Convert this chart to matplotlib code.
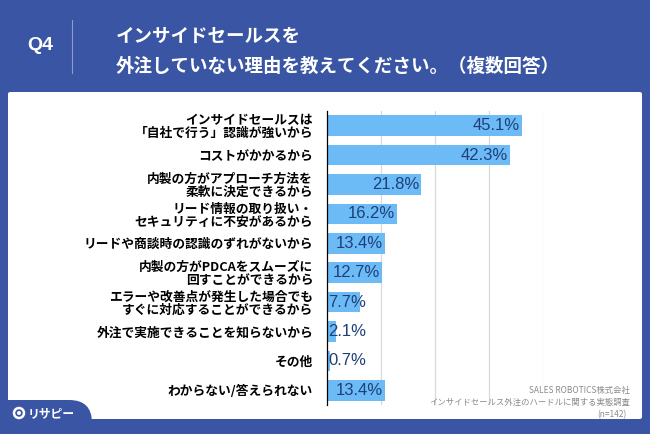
import matplotlib.pyplot as plt
from matplotlib.patches import FancyBboxPatch, Ellipse
from matplotlib.lines import Line2D

plt.rcParams['font.family'] = ['Noto Sans CJK JP', 'DejaVu Sans']

# data
categories = [
    "インサイドセールスは\n「自社で行う」認識が強いから",
    "コストがかかるから",
    "内製の方がアプローチ方法を\n柔軟に決定できるから",
    "リード情報の取り扱い・\nセキュリティに不安があるから",
    "リードや商談時の認識のずれがないから",
    "内製の方がPDCAをスムーズに\n回すことができるから",
    "エラーや改善点が発生した場合でも\nすぐに対応することができるから",
    "外注で実施できることを知らないから",
    "その他",
    "わからない/答えられない",
]
values = [45.1, 42.3, 21.8, 16.2, 13.4, 12.7, 7.7, 2.1, 0.7, 13.4]
grid_ticks = [12.5, 25, 37.5, 50]

BLUE = "#3A55A4"
BAR = "#6CBBF7"
VAL = "#1E4079"

W, H = 650, 434
fig = plt.figure(figsize=(W / 100, H / 100), dpi=100)
fig.patch.set_facecolor(BLUE)

def fx(px):
    return px / W

def fy(py):
    return 1 - py / H

# white panel
panel = FancyBboxPatch((fx(8), fy(419)), fx(634), (419 - 92) / H,
                       boxstyle="round,pad=0,rounding_size=0.004",
                       transform=fig.transFigure, facecolor="white",
                       edgecolor="none", zorder=-3)
fig.patches.append(panel)

# logo tab bottom-left
tab = FancyBboxPatch((fx(-20), fy(440)), fx(112), 40 / H,
                     boxstyle="round,pad=0,rounding_size=0.035",
                     transform=fig.transFigure, facecolor=BLUE,
                     edgecolor="none", zorder=-2, mutation_aspect=W / H)
fig.patches.append(tab)

# header
fig.text(fx(40), fy(45), "Q4", color="white", fontsize=14, fontweight="bold",
         ha="center", va="center", family=["Liberation Sans", "DejaVu Sans"])
fig.add_artist(Line2D([fx(72), fx(72)], [fy(20), fy(73)], color="#8C9CCB",
                      linewidth=0.8, transform=fig.transFigure))
fig.text(fx(116), fy(36), "インサイドセールスを", color="white", fontsize=13.3,
         fontweight="bold", ha="left", va="center")
fig.text(fx(116), fy(66), "外注していない理由を教えてください。（複数回答）",
         color="white", fontsize=13.3, fontweight="bold", ha="left", va="center")

# chart
ax = fig.add_axes([fx(327), fy(405), fx(216), 294 / H])
ax.set_facecolor("none")
y = list(range(len(values)))
ax.barh(y, values, height=0.7, color=BAR, zorder=2)
ax.set_xlim(0, 50)
ax.set_ylim(len(values) - 0.5, -0.5)
ax.set_xticks(grid_ticks)
ax.set_xticklabels([])
ax.tick_params(axis="both", length=0)
ax.grid(axis="x", color="#D9D9D9", linewidth=0.9, zorder=0)
for s in ["top", "right", "bottom"]:
    ax.spines[s].set_visible(False)
ax.spines["left"].set_linewidth(0.9)
ax.spines["left"].set_zorder(3)
ax.set_yticks(y)
ax.set_yticklabels(categories, fontsize=9.2, fontweight="bold", linespacing=1.02)
ax.tick_params(axis="y", pad=10)

for i, v in enumerate(values):
    if v < 8:
        ax.text(0.3, i, f"{v}%", ha="left", va="center", fontsize=12,
                color=VAL, zorder=4, family=["Liberation Sans", "DejaVu Sans"])
    else:
        ax.text(v - 0.4, i, f"{v}%", ha="right", va="center", fontsize=12,
                color=VAL, zorder=4, family=["Liberation Sans", "DejaVu Sans"])

# footer
foot = dict(color="#8A8A8A", fontsize=6, ha="right", va="center")
fig.text(fx(630), fy(390), "SALES ROBOTICS株式会社", **foot)
fig.text(fx(630), fy(402), "インサイドセールス外注のハードルに関する実態調査", **foot)
fig.text(fx(627), fy(415), "(n=142)", **foot)

# logo
fig.patches.append(Ellipse((fx(19), fy(413)), 10 / W, 10 / H, transform=fig.transFigure,
                           facecolor="none", edgecolor="white", linewidth=1.8, zorder=3))
fig.patches.append(Ellipse((fx(19), fy(413)), 4 / W, 4 / H, transform=fig.transFigure,
                           facecolor="white", edgecolor="none", zorder=3))
fig.text(fx(28), fy(414), "リサピー", color="white", fontsize=8.5,
         fontweight="bold", ha="left", va="center")

fig.savefig("out.png", dpi=100, facecolor=fig.get_facecolor())
